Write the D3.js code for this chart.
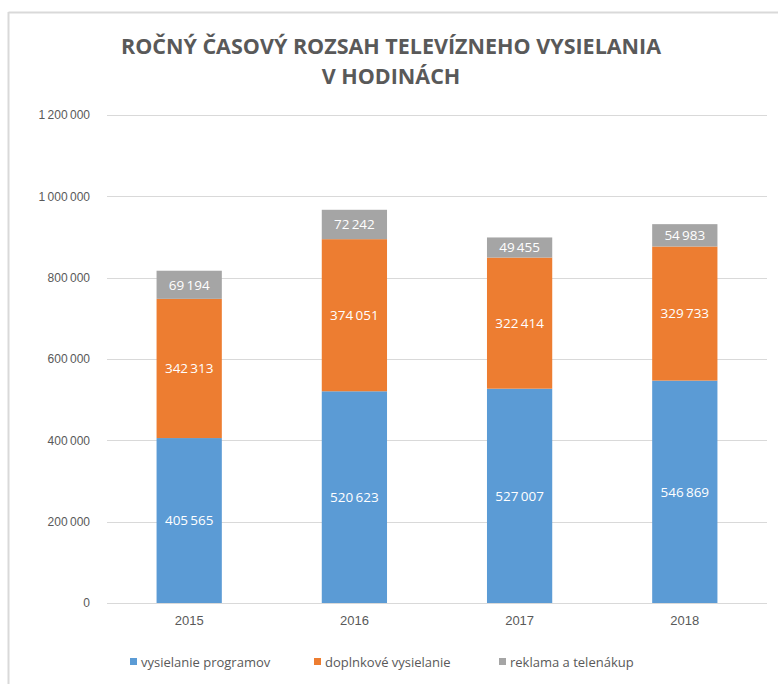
<!DOCTYPE html>
<html>
<head>
<meta charset="utf-8">
<script src="https://cdn.jsdelivr.net/npm/d3@7"></script>
<style>
  body { margin: 0; background: #fff; }
  svg { display: block; font-family: "Open Sans", "Noto Sans", sans-serif; }
  .grid line { stroke: #d9d9d9; }
  .tick text { fill: #595959; }
</style>
</head>
<body>
<svg id="chart" width="778" height="684"></svg>
<script>
// Data
const years = ["2015", "2016", "2017", "2018"];
const programov = [405565, 520623, 527007, 546869];
const doplnkove = [342313, 374051, 322414, 329733];
const reklama = [69194, 72242, 49455, 54983];
const seriesNames = ["vysielanie programov", "doplnkové vysielanie", "reklama a telenákup"];
const colors = ["#5b9bd5", "#ed7d31", "#a5a5a5"];
const yTicks = [0, 200000, 400000, 600000, 800000, 1000000, 1200000];

const svg = d3.select("#chart");
const margin = { left: 107, right: 11, top: 115, bottom: 81 };
const W = 778, H = 684;

// frame lines (top + left only visible)
svg.append("line").attr("x1", 8.5).attr("x2", W).attr("y1", 12.5).attr("y2", 12.5)
  .attr("stroke", "#d9d9d9").attr("stroke-width", 2);
svg.append("line").attr("x1", 8.5).attr("x2", 8.5).attr("y1", 12).attr("y2", H)
  .attr("stroke", "#d9d9d9").attr("stroke-width", 2);

const x = d3.scaleBand().domain(years)
  .range([margin.left, W - margin.right]).paddingInner(0.605).paddingOuter(0.3);
const y = d3.scaleLinear().domain([0, 1200000]).range([H - margin.bottom, margin.top]);

const fmt = v => d3.format(",")(v).replace(/,/g, "\u2009");

// gridlines
svg.append("g").attr("class", "grid")
  .selectAll("line").data(yTicks).join("line")
  .attr("x1", margin.left).attr("x2", W - margin.right)
  .attr("y1", d => Math.round(y(d)) + 0.5).attr("y2", d => Math.round(y(d)) + 0.5);

// y axis labels
svg.append("g")
  .attr("transform", `translate(${margin.left - 14},0)`)
  .call(d3.axisLeft(y).tickValues(yTicks).tickSize(0).tickFormat(fmt))
  .call(g => g.select(".domain").remove())
  .selectAll("text").attr("font-size", 12).attr("fill", "#595959");

// stacked data
const rows = years.map((yr, i) => ({ year: yr, a: programov[i], b: doplnkove[i], c: reklama[i] }));
const stack = d3.stack().keys(["a", "b", "c"])(rows);

const layers = svg.append("g").selectAll("g").data(stack).join("g")
  .attr("fill", (d, i) => colors[i]);

layers.selectAll("rect").data(d => d).join("rect")
  .attr("x", d => x(d.data.year))
  .attr("width", x.bandwidth())
  .attr("y", d => y(d[1]))
  .attr("height", d => y(d[0]) - y(d[1]));

// value labels
layers.selectAll("text").data(d => d).join("text")
  .attr("x", d => x(d.data.year) + x.bandwidth() / 2)
  .attr("y", d => (y(d[0]) + y(d[1])) / 2)
  .attr("dy", "0.35em")
  .attr("text-anchor", "middle")
  .attr("fill", "#fff")
  .attr("font-size", 13.5)
  .text(d => fmt(d[1] - d[0]));

// baseline
svg.append("line")
  .attr("x1", margin.left).attr("x2", W - margin.right)
  .attr("y1", Math.round(y(0)) + 0.5).attr("y2", Math.round(y(0)) + 0.5)
  .attr("stroke", "#d9d9d9");

// x axis labels
svg.append("g")
  .attr("transform", `translate(0,${y(0) + 10})`)
  .call(d3.axisBottom(x).tickSize(0))
  .call(g => g.select(".domain").remove())
  .selectAll("text").attr("font-size", 13).attr("fill", "#595959");

// title
const title = svg.append("text")
  .attr("text-anchor", "middle")
  .attr("fill", "#595959")
  .attr("font-size", 21.5)
  .attr("font-weight", "bold");
title.append("tspan").attr("x", 391).attr("y", 54).text("ROČNÝ ČASOVÝ ROZSAH TELEVÍZNEHO VYSIELANIA");
title.append("tspan").attr("x", 391).attr("y", 84).text("V HODINÁCH");

// legend
const legendX = [130, 314, 499];
const legend = svg.append("g").selectAll("g").data(seriesNames).join("g")
  .attr("transform", (d, i) => `translate(${legendX[i]},662)`);
legend.append("rect").attr("x", 0).attr("y", -4).attr("width", 7).attr("height", 7)
  .attr("fill", (d, i) => colors[i]);
legend.append("text").attr("x", 11).attr("dy", "0.35em")
  .attr("font-size", 13).attr("fill", "#595959").text(d => d);
</script>
</body>
</html>
